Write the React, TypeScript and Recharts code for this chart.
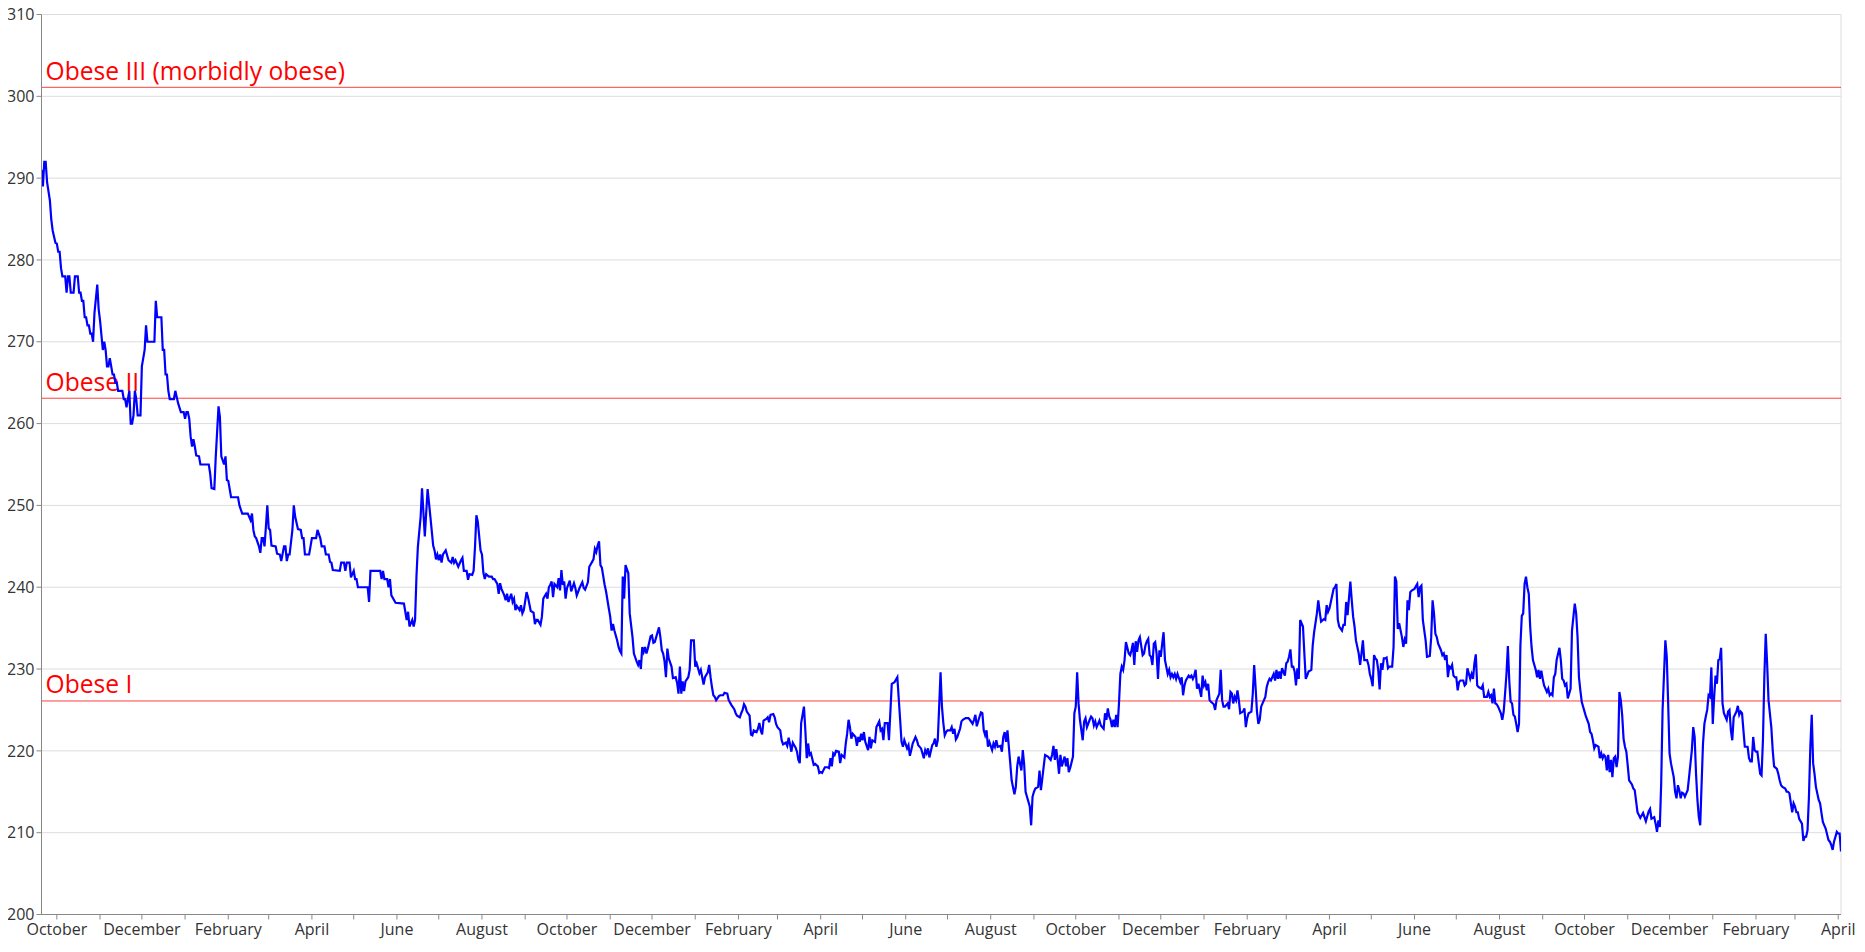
import React from 'react';
import { LineChart, Line, XAxis, YAxis, CartesianGrid, ReferenceLine } from 'recharts';

// Observation dates are stored as days since the first weigh-in (2015-09-20).
const START_UTC = Date.UTC(2015, 8, 20);
const DAY_MS = 86400000;
const TOTAL_DAYS = 1291;

const MONTH_NAMES = ['January', 'February', 'March', 'April', 'May', 'June', 'July', 'August', 'September', 'October', 'November', 'December'];

const Y_TICKS = [200, 210, 220, 230, 240, 250, 260, 270, 280, 290, 300, 310];

const THRESHOLDS: { label: string; value: number }[] = [
  { label: 'Obese III (morbidly obese)', value: 301.1 },
  { label: 'Obese II', value: 263.1 },
  { label: 'Obese I', value: 226.1 },
];

// [day, weight (lb)]
const readings2015: [number, number][] = [
  [0, 291], [1, 289], [2, 292], [3, 292], [4, 289.5], [6, 287.3], [7, 285], [8, 283.6], [10, 282.1], [11, 282], [12, 281], [13, 281], [14, 279], [15, 278], [17, 278], [18, 276], [19, 278], [20, 278], [21, 276], [23, 276], [24, 278], [26, 278], [27, 276], [28, 276], [29, 275], [30, 275], [31, 273], [32, 273], [33, 272], [34, 272], [35, 271], [36, 271], [37, 270], [38, 273.5], [40, 277], [41, 274], [42, 272.6], [44, 269], [45, 270], [46, 269], [47, 267], [48, 267], [49, 268], [51, 266], [52, 266], [53, 265], [54, 265], [55, 264], [58, 264], [59, 263], [60, 263], [61, 262], [62, 263], [63, 264], [64, 260], [65, 260], [66, 261], [67, 264], [68, 263], [69, 261], [71, 261], [72, 267], [73, 268], [74, 269], [75, 272], [76, 270], [81, 270], [82, 275], [83, 273], [86, 273], [87, 269], [88, 269], [89, 266], [90, 266], [91, 264], [92, 263], [95, 263], [96, 264], [98, 262.5], [100, 261.4], [102, 261.4], [103, 260.6], [104, 261.4], [105, 261.4], [106, 260.6], [107, 258.4], [108, 257.2], [109, 258.1], [110, 257.2], [111, 256.1], [113, 256], [114, 255], [120, 255], [121, 253.9], [122, 252.1], [124, 252], [125, 255.9], [127, 262.1], [128, 260.8], [129, 256], [131, 255], [132, 256], [133, 253.1], [134, 253], [136, 251], [141, 251], [142, 250], [144, 249], [148, 249], [150, 248.2], [151, 249], [152, 247], [153, 246.2], [154, 246], [156, 245],
];

const readings2016a: [number, number][] = [
  [157, 244.2], [158, 246], [159, 246], [160, 245], [161, 247.4], [162, 250], [163, 247.2], [164, 247], [165, 245.1], [168, 245], [169, 244.1], [171, 244], [172, 243.2], [174, 245], [175, 245], [176, 243.2], [177, 244], [178, 244], [180, 247], [181, 250], [182, 248.6], [184, 247.1], [186, 247], [187, 246], [188, 246], [189, 244], [192, 244], [193, 245], [194, 246], [197, 246], [198, 247], [200, 246], [201, 245], [203, 245], [204, 244], [206, 244], [207, 243.1], [208, 243], [209, 242.1], [214, 242], [215, 243], [217, 243], [218, 242], [219, 243], [221, 243], [222, 241.2], [224, 242], [225, 241], [226, 241], [227, 240], [234, 240], [235, 238.2], [236, 242], [243, 242], [244, 241], [245, 242], [246, 241], [248, 241], [249, 240], [250, 241], [251, 239], [254, 238.1], [260, 238], [261, 237], [262, 236], [263, 237], [264, 235.2], [266, 236], [267, 235.2], [268, 236], [269, 241.3], [270, 244.9], [272, 248.6], [273, 252.1], [275, 246.2], [277, 252], [279, 248.6], [281, 245.1], [282, 244.5], [283, 243.4], [284, 244], [285, 243.3], [286, 244], [287, 243], [288, 244], [290, 244.5], [292, 243.3], [294, 243], [295, 243.7], [296, 243], [297, 243.3], [299, 242.5], [301, 243.3], [302, 243.6], [303, 242], [305, 242], [306, 240.9], [307, 241.6], [309, 241.5], [310, 242], [311, 244.9], [312, 248.8], [313, 248], [315, 244.5], [316, 244], [317, 241.8], [318, 241], [319, 241.6], [321, 241.3], [323, 241.3], [324, 241], [325, 241], [327, 240.4], [328, 239.2],
];

const readings2016b: [number, number][] = [
  [329, 240.5], [330, 239.8], [332, 239], [333, 238.4], [334, 239.2], [335, 238.2], [337, 239.2], [338, 238.2], [339, 238.6], [340, 237.2], [341, 237.7], [343, 237.2], [344, 237.8], [345, 236.8], [346, 237.2], [348, 239.4], [349, 238.8], [351, 237.1], [353, 236.9], [354, 235.5], [355, 236], [356, 236], [358, 235.4], [359, 236.4], [360, 238.6], [362, 239.2], [363, 238.6], [364, 240], [365, 240.3], [366, 240.7], [367, 238.8], [368, 240.4], [370, 240], [371, 241.1], [372, 239.6], [373, 242.1], [374, 240.3], [375, 240.7], [376, 238.6], [377, 239.9], [379, 240.8], [380, 239.5], [382, 240.5], [383, 239.9], [384, 239], [386, 239.9], [388, 240.6], [389, 239.9], [390, 239.7], [392, 240.6], [393, 242.5], [395, 243.1], [396, 243.4], [397, 244.7], [398, 244.3], [399, 245.1], [400, 245.6], [401, 242.7], [402, 242.4], [404, 240.3], [405, 239.5], [407, 237.4], [408, 236.4], [409, 234.7], [410, 235.5], [411, 234.7], [413, 233.5], [414, 232.7], [415, 232.2], [416, 231.9], [417, 241.3], [418, 238.6], [419, 242.7], [421, 241.7], [422, 236.8], [424, 233.9], [425, 231.9], [427, 230.9], [428, 230.5], [429, 231.1], [430, 230], [431, 232.7], [432, 232.1], [433, 232.7], [434, 231.9], [435, 232.5], [437, 234], [438, 234.1], [439, 233.2], [440, 233.3], [441, 233.9], [443, 235.1], [444, 233.9], [445, 232.3], [446, 231.9], [447, 230.9], [448, 229], [449, 232.5], [450, 231.3], [452, 230.3], [453, 228.9], [455, 229], [456, 228.3], [457, 227], [458, 230.3], [459, 227], [460, 228.5], [461, 227.3], [462, 228.5], [464, 229], [465, 229.9], [466, 233.5], [468, 233.5], [469, 230.3], [470, 230.7], [472, 229.5], [473, 229.9], [474, 229], [475, 228.1], [476, 229], [478, 229.6], [479, 230.5], [480, 229], [481, 227.8], [482, 226.8], [483, 226.6], [484, 226.2], [486, 226.7], [487, 226.8], [489, 226.8], [490, 227.1], [492, 227], [493, 226.2], [495, 225.6], [497, 225.1], [498, 224.6], [499, 224.3], [501, 224.1], [502, 224.6], [503, 225], [504, 225.7], [505, 225.4], [506, 224.8], [508, 224.3], [509, 222], [510, 221.9], [511, 222.5], [513, 222.3], [514, 222.7], [515, 223.4], [516, 222.5], [517, 222], [518, 223.7], [520, 223.9], [521, 224.1], [522, 223.5], [523, 224.4], [525, 224.5], [526, 224.1], [527, 223.3], [528, 222.9], [530, 222.5], [531, 221.3], [532, 220.8], [534, 221], [535, 220.6], [536, 221.6], [537, 220.8], [538, 219.9], [539, 221], [541, 220.4], [542, 219.9], [543, 218.9],
];

const readings2017a: [number, number][] = [
  [544, 218.5], [545, 223.4], [547, 225.4], [548, 222.5], [549, 219.1], [550, 220.9], [551, 219.5], [552, 219.7], [554, 218.3], [555, 218.4], [557, 218.1], [558, 217.3], [559, 217.4], [560, 217.3], [562, 218], [564, 218], [565, 217.9], [566, 219.1], [567, 218.1], [568, 219.7], [569, 219.5], [570, 220], [572, 219.9], [573, 218.5], [574, 219.5], [576, 219.2], [577, 220.9], [578, 222.1], [579, 223.8], [580, 222.9], [581, 221.5], [582, 222.1], [584, 221.7], [585, 220.6], [586, 221.7], [587, 221.1], [588, 222.1], [589, 221.3], [590, 222.3], [591, 221.1], [593, 220.1], [594, 221.7], [595, 220.3], [596, 221.3], [598, 221.1], [599, 222.9], [601, 223.6], [602, 222.5], [603, 222.7], [604, 221.3], [605, 223.4], [607, 223.4], [608, 221.3], [610, 228.2], [612, 228.4], [614, 229], [615, 226.4], [616, 223.8], [617, 221.1], [618, 220.5], [619, 221.3], [621, 220.3], [622, 220.7], [623, 219.4], [624, 220.1], [625, 220.9], [627, 221.7], [628, 221.3], [629, 220.7], [631, 220.3], [632, 219.7], [633, 219.1], [634, 220.1], [635, 219.7], [636, 220.3], [637, 219.2], [639, 220.7], [640, 220.9], [641, 221.5], [642, 220.5], [643, 221.3], [644, 225.4], [645, 229.6], [646, 225.4], [647, 223.4], [648, 221.9], [649, 222.3], [650, 222.5], [652, 222.5], [653, 222.9], [654, 222.1], [655, 222.7], [656, 221.4], [657, 221.7], [659, 222.7], [660, 223.6], [661, 223.8], [663, 224], [665, 224], [666, 223.8], [668, 223.3], [669, 223.8], [670, 224.4], [671, 223], [673, 224.2], [674, 224.7], [675, 224.6], [676, 222.5], [677, 221.9], [678, 222.5], [679, 220.5], [680, 221.1], [682, 220.1], [683, 220.9], [684, 220.5], [685, 221.3], [686, 220.5], [688, 220.6], [689, 219.9], [690, 221.7], [691, 222.3], [692, 221.1], [693, 222.5], [694, 220.5], [695, 218.5], [696, 216.4], [698, 214.7], [699, 215.6], [700, 218.1], [701, 219.3], [703, 217.6], [704, 220.1], [705, 218.3], [706, 215], [707, 214.4], [709, 213.2], [710, 210.9], [711, 214.4], [712, 215], [713, 215.4], [715, 215.6], [716, 217.6], [717, 215.2], [718, 216.6], [719, 218.1], [720, 219.5], [722, 219.3], [723, 219.1], [724, 218.9], [725, 219.5], [726, 220.6], [727, 218.9], [728, 220.2], [729, 218.9], [730, 217.2], [731, 219.5], [732, 218.1], [734, 219.3], [735, 218.1], [736, 219.1], [737, 217.4], [738, 217.9], [740, 219.3], [741, 224.6], [742, 225.4], [743, 229.6], [744, 225.8], [745, 223.8], [747, 221.3], [748, 223.6], [749, 224], [750, 222.9], [752, 223.8], [753, 224.2], [754, 224], [755, 223.1], [756, 223.6], [757, 222.9], [758, 223.3],
];

const readings2017b: [number, number][] = [
  [759, 223.7], [760, 223.1], [762, 222.7], [763, 224.6], [764, 223.8], [765, 225.2], [766, 224.2], [767, 223.8], [768, 222.9], [769, 223.8], [770, 222.9], [771, 224.4], [772, 222.9], [773, 225.8], [774, 229.4], [775, 230.3], [776, 229.9], [777, 231.1], [778, 233.3], [779, 232.6], [780, 231.9], [781, 231.7], [782, 232.3], [783, 233.2], [784, 230.5], [785, 233.4], [786, 232.1], [787, 233.5], [788, 233.9], [790, 231.7], [791, 231.9], [792, 232.9], [793, 233.4], [794, 233.7], [795, 231.7], [796, 231.5], [797, 230.5], [798, 233.1], [799, 233.3], [800, 231.9], [801, 228.8], [802, 232.3], [803, 231.5], [804, 233.1], [805, 234.5], [806, 231.1], [808, 229.4], [809, 229.9], [810, 229], [811, 229.4], [812, 229], [813, 229.4], [814, 228.8], [815, 229.4], [817, 228.4], [818, 229], [819, 226.8], [820, 228], [821, 228.6], [823, 229.2], [824, 229], [825, 229.2], [826, 228.8], [827, 229.2], [828, 229.9], [829, 227.6], [830, 228.2], [832, 226.6], [833, 229.2], [834, 228], [835, 228.4], [836, 227.4], [837, 228.2], [838, 226.2], [839, 226], [841, 225.7], [842, 225], [843, 226.2], [844, 226.6], [845, 227], [846, 229.9], [847, 226.2], [848, 225.4], [849, 225.4], [851, 225.8], [852, 225.1], [853, 227.2], [854, 227], [855, 225.8], [856, 226.6], [857, 226.2], [858, 227.4], [859, 226.2], [860, 224.6], [862, 224.8], [863, 225.2], [864, 222.9], [865, 224], [866, 224.6], [868, 224.8], [869, 227], [870, 230.5], [871, 227.8], [872, 224.8], [873, 223.3], [874, 223.8], [875, 225.4], [876, 225.8], [878, 226.6], [879, 227.8], [880, 228.4], [881, 228.8], [882, 228.6], [884, 229.4], [885, 228.6], [886, 229.9], [887, 228.8], [888, 229.7], [889, 228.8], [890, 230.1], [892, 229.2], [893, 230.7], [894, 230.9], [895, 231.5], [896, 232.4], [897, 230.3], [898, 230.3], [899, 229.7], [900, 228], [901, 230.1], [902, 228.8], [903, 236], [905, 235.2], [906, 231.9], [907, 228.8], [908, 229.2], [909, 229.7], [911, 229.9], [912, 232.9], [913, 234.5], [915, 236.8], [916, 238.4], [917, 237], [918, 235.8], [920, 236.1], [921, 236], [922, 237.8], [923, 237], [924, 237.4], [925, 238.2], [927, 239.8], [928, 240], [929, 240.4], [930, 236], [931, 235.2], [933, 234.7], [934, 235.4], [935, 235.4], [936, 238.2], [937, 236.6], [939, 240.7], [940, 238.4], [941, 236.4], [942, 235.2], [943, 233.5], [945, 231.9], [946, 230.5], [947, 231.9], [948, 233.5], [949, 231.1], [951, 231.1], [952, 230.5], [953, 229.4], [954, 228.8], [955, 227.9], [956, 231.7], [957, 231.3], [958, 231.1], [959, 229.9], [960, 227.5], [961, 230.7], [962, 229.9], [963, 231.3], [964, 231.3], [965, 231.4], [966, 230.1], [967, 230.3], [969, 230.3], [970, 232.7], [971, 241.3], [972, 240.7], [973, 234.9],
];

const readings2018a: [number, number][] = [
  [974, 235.6], [976, 233.9], [977, 232.7], [978, 233.6], [979, 233.1], [980, 238.4], [981, 237.2], [982, 239.4], [983, 239.6], [985, 239.8], [986, 240.1], [987, 240.4], [988, 238.8], [989, 240], [990, 240.2], [991, 236], [993, 233.5], [994, 231.5], [996, 231.6], [997, 233.9], [998, 238.4], [999, 236.8], [1000, 234.3], [1001, 233.9], [1002, 233.1], [1004, 232.3], [1005, 231.7], [1006, 231.9], [1007, 231.1], [1008, 231.7], [1009, 229], [1010, 230.3], [1011, 230.1], [1012, 230.5], [1013, 229.2], [1014, 229], [1015, 229], [1016, 227.4], [1017, 228.4], [1018, 228.6], [1020, 228.6], [1021, 228], [1022, 228.2], [1023, 230.1], [1025, 228.8], [1026, 229.4], [1027, 228.8], [1028, 230.7], [1029, 231.8], [1030, 228], [1031, 227.8], [1033, 227.6], [1034, 228], [1035, 226.6], [1037, 226.6], [1038, 227.2], [1039, 226.6], [1040, 226.8], [1041, 225.8], [1042, 227.6], [1043, 225.8], [1044, 225.7], [1045, 225.4], [1047, 224.6], [1048, 223.8], [1049, 224.8], [1050, 227], [1051, 229.4], [1052, 232.8], [1053, 228.6], [1054, 226], [1055, 225.8], [1056, 224.4], [1057, 224.2], [1058, 223.3], [1059, 222.3], [1060, 223.3], [1061, 232.9], [1062, 236.5], [1063, 236.8], [1064, 240.4], [1065, 241.3], [1066, 240], [1067, 239.2], [1068, 235.2], [1069, 232.7], [1070, 231.1], [1071, 230.5], [1072, 229.9], [1073, 229], [1074, 229.9], [1075, 228.8], [1076, 229.8], [1077, 228.8], [1078, 228], [1080, 227.2], [1081, 227.6], [1082, 226.8], [1083, 227], [1084, 226.8], [1085, 229], [1086, 229.4], [1087, 231.1], [1089, 232.6], [1090, 231.1], [1091, 228.8], [1092, 228.6], [1093, 228], [1094, 228.2], [1095, 226.4], [1096, 227], [1097, 227.6], [1098, 234.7], [1100, 238], [1101, 236.8], [1102, 233.9], [1103, 229], [1104, 227.4], [1105, 226], [1106, 225.4], [1107, 224.8], [1108, 224.2], [1110, 223.3], [1111, 222.3], [1112, 222.1], [1113, 221.3], [1114, 220.3], [1115, 220.7], [1117, 220.5], [1118, 219.1], [1119, 219.7], [1120, 219.1], [1121, 219.5], [1122, 219.3], [1123, 217.6], [1124, 219.5], [1125, 217.4], [1126, 218.9], [1127, 216.8], [1128, 219.1], [1129, 219.3], [1130, 218], [1131, 219.3], [1132, 227.2], [1133, 226.2], [1134, 224.4], [1135, 221.5], [1136, 220.5], [1137, 219.9], [1138, 218.2], [1139, 216.4], [1141, 215.9], [1142, 215.4], [1143, 215.2],
];

const readings2018b: [number, number][] = [
  [1145, 212.5], [1147, 211.8], [1149, 212.4], [1151, 211.4], [1153, 212.6], [1154, 212.9], [1155, 211.7], [1157, 211.9], [1158, 211.1], [1159, 210.1], [1160, 211.5], [1161, 210.7], [1162, 216], [1163, 225], [1165, 233.5], [1166, 231.5], [1167, 225.8], [1168, 219.7], [1169, 218.5], [1171, 216.8], [1172, 215], [1173, 214.2], [1174, 215.8], [1175, 215.2], [1176, 214.2], [1177, 214.9], [1178, 214.8], [1179, 214.4], [1180, 214.8], [1181, 215.2], [1182, 216.8], [1184, 220.1], [1185, 222.9], [1186, 221.7], [1187, 217.2], [1188, 214], [1189, 211.9], [1190, 210.9], [1191, 216], [1192, 220.9], [1193, 223.3], [1194, 224.2], [1195, 225], [1196, 226.8], [1197, 226.6], [1198, 230.2], [1199, 223.3], [1200, 226.6], [1201, 229.2], [1202, 228.2], [1203, 231.1], [1204, 231.2], [1205, 232.6], [1206, 225.8], [1207, 224.6], [1209, 223.8], [1210, 224.8], [1211, 225], [1212, 222.5], [1213, 221.3], [1214, 224.1], [1216, 224.8], [1217, 225.5], [1218, 224.4], [1219, 224.8], [1220, 224.6], [1221, 222.5], [1222, 220.5], [1224, 220.5], [1225, 219.1], [1226, 218.7], [1227, 218.7], [1228, 221.7], [1229, 220.1], [1230, 219.9], [1231, 219.9], [1232, 218.5], [1233, 217.2], [1234, 217], [1235, 221.3], [1236, 229], [1237, 234.3], [1238, 230.7], [1239, 226.2], [1241, 222.9], [1242, 220.1], [1243, 218.1], [1245, 217.8], [1246, 217.2], [1247, 216.4], [1248, 215.8], [1249, 215.6], [1251, 215.4], [1252, 215], [1253, 215], [1254, 214.8], [1255, 213.6], [1256, 212.5], [1257, 213.6], [1258, 213.2], [1259, 212.5], [1260, 212.5], [1261, 211.7], [1263, 211.1], [1264, 209], [1265, 209.5], [1266, 209.5], [1267, 210.3], [1268, 214.4], [1269, 220.5], [1270, 224.4], [1271, 218.5], [1272, 217.2], [1273, 215.6], [1275, 214], [1276, 213.6], [1277, 212.4], [1278, 211.3], [1279, 210.9], [1280, 210.5], [1282, 209.1], [1283, 208.9], [1284, 208.5], [1285, 207.9], [1286, 208.9], [1288, 210.1], [1289, 209.9], [1290, 209.9], [1291, 207.7],
];

const ALL_READINGS = [
  ...readings2015, ...readings2016a, ...readings2016b, ...readings2017a,
  ...readings2017b, ...readings2018a, ...readings2018b,
];

const data = ALL_READINGS.map(([day, weight]) => ({ day, weight }));

// Month-start ticks (days since start)
const monthTicks: number[] = [];
for (let m = 9; ; m++) {
  const d = (Date.UTC(2015, m, 1) - START_UTC) / DAY_MS;
  if (d > TOTAL_DAYS) break;
  monthTicks.push(d);
}

const formatMonth = (d: number) => {
  const dt = new Date(START_UTC + d * DAY_MS);
  const mi = dt.getUTCMonth();
  return mi % 2 === 1 ? MONTH_NAMES[mi] : '';
};

const ThresholdLabel = (props: any) => {
  const { viewBox, text } = props;
  if (!viewBox) return null;
  return (
    <text x={viewBox.x + 4} y={viewBox.y - 7.5} fill="#ff0000" fontSize={24.6} fontFamily="'Open Sans', 'Noto Sans', sans-serif">
      {text}
    </text>
  );
};

export default function App() {
  return (
    <div style={{ fontFamily: "'Open Sans', 'Noto Sans', sans-serif", marginTop: -8, height: 944 }}>
      <LineChart
        width={1849}
        height={944}
        data={data}
        margin={{ top: 14.5, right: 16, bottom: 0, left: 0.5 }}
      >
        <CartesianGrid horizontal vertical={false} stroke="#dddddd" strokeDasharray="" />
        <XAxis
          dataKey="day"
          type="number"
          domain={[0, TOTAL_DAYS]}
          ticks={monthTicks}
          interval={0}
          tickFormatter={formatMonth}
          height={29.5}
          tickSize={5}
          tickMargin={4}
          stroke="#888888"
          tick={{ fill: '#333333', fontSize: 16 }}
          allowDataOverflow
        />
        <YAxis
          type="number"
          domain={[200, 310]}
          ticks={Y_TICKS}
          interval={0}
          width={33}
          tickSize={5}
          stroke="#888888"
          tick={{ fill: '#333333', fontSize: 16 }}
          allowDataOverflow
        />
        <ReferenceLine x={TOTAL_DAYS} stroke="#dddddd" />
        {THRESHOLDS.map((t) => (
          <ReferenceLine
            key={t.label}
            y={t.value}
            stroke="#ff0000"
            strokeOpacity={0.75}
            label={<ThresholdLabel text={t.label} />}
          />
        ))}
        <Line
          type="linear"
          dataKey="weight"
          stroke="#0000ff"
          strokeWidth={2.2}
          dot={false}
          activeDot={false}
          isAnimationActive={false}
        />
      </LineChart>
    </div>
  );
}
